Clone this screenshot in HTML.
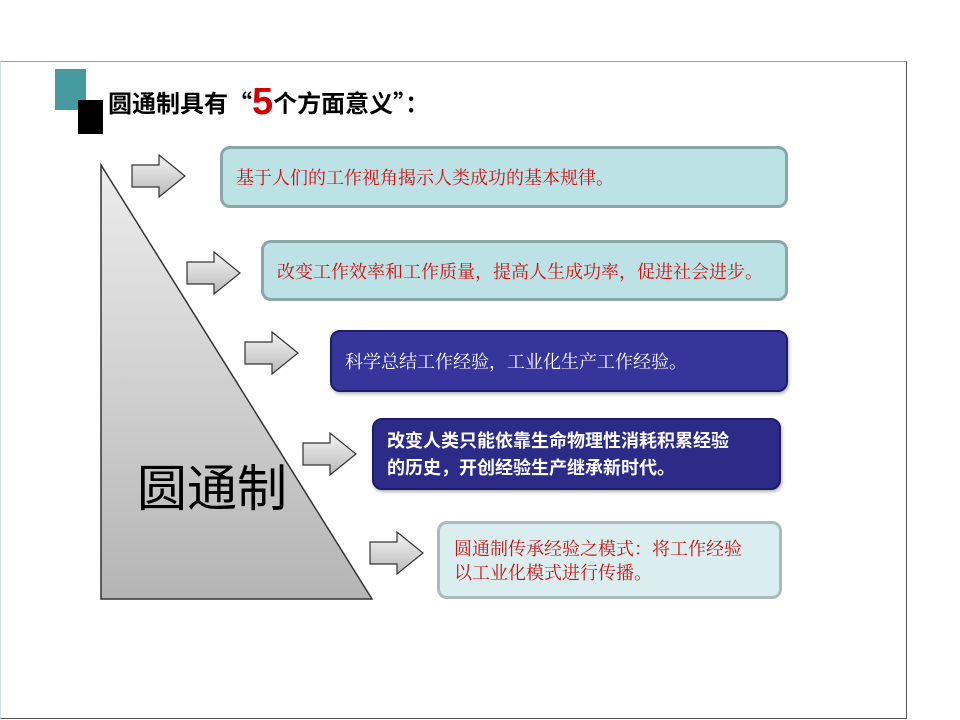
<!DOCTYPE html>
<html><head><meta charset="utf-8"><style>
body{margin:0;width:960px;height:720px;background:#fff;position:relative;overflow:hidden;font-family:"Liberation Sans","Noto Sans CJK SC",sans-serif}
.frame{position:absolute;left:0;top:61px;width:905px;height:656px;border-top:1.5px solid #6fb0b6;border-right:1.5px solid #555;border-bottom:1.5px solid #555;border-left:1px solid #cfe3e5}
.box{position:absolute;border-radius:10px;box-sizing:border-box;display:flex;align-items:center;font-size:18px;line-height:26px;white-space:nowrap}
.serif{font-family:"Noto Serif CJK SC","Liberation Serif",serif}
.light{background:#bce2e5;border:3px solid #8aa6a8;color:#d01010}
.dark{background:#35359b;border:2px solid #1e1e66;color:#fff;box-shadow:1px 2px 3px rgba(0,0,0,.3)}
</style></head><body>
<div class="frame"></div>
<div style="position:absolute;left:55px;top:69px;width:31px;height:41px;background:#479a9f"></div>
<div style="position:absolute;left:78px;top:100px;width:25px;height:34px;background:#000"></div>
<div style="position:absolute;left:108px;top:82px;font-weight:bold;font-size:24px;color:#000;white-space:nowrap;line-height:40px;font-family:'Noto Sans CJK SC',sans-serif">圆通制具有“<span style="color:#d00000;font-size:38px;vertical-align:-2px;font-family:'Liberation Sans',sans-serif">5</span>个方面意义”：</div>
<svg width="960" height="720" style="position:absolute;left:0;top:0">
<defs>
<linearGradient id="tg" x1="0" y1="0" x2="0" y2="1"><stop offset="0" stop-color="#ececec"/><stop offset="1" stop-color="#b5b5b5"/></linearGradient>
<linearGradient id="ag" x1="0" y1="0" x2="0" y2="1"><stop offset="0" stop-color="#f4f4f4"/><stop offset="1" stop-color="#b9b9b9"/></linearGradient>
<g id="ar"><path d="M0 10 H27 V0 L53 21 L27 42 V32 H0 Z" fill="url(#ag)" stroke="#333" stroke-width="1.2"/></g>
</defs>
<path d="M101 165 L101 599 L372 599 Z" fill="url(#tg)" stroke="#333" stroke-width="1.5"/>
<use href="#ar" x="132" y="155"/>
<use href="#ar" x="187" y="252"/>
<use href="#ar" x="245" y="332"/>
<use href="#ar" x="303" y="433"/>
<use href="#ar" x="370" y="532"/>
<text x="137" y="506" font-size="50" font-family="Noto Sans CJK SC, sans-serif" fill="#000">圆通制</text>
</svg>
<div class="box light serif" style="left:220px;top:146px;width:568px;height:62px;padding-left:13px">基于人们的工作视角揭示人类成功的基本规律。</div>
<div class="box light serif" style="left:261px;top:240px;width:527px;height:61px;padding-left:13px">改变工作效率和工作质量，提高人生成功率，促进社会进步。</div>
<div class="box dark serif" style="left:330px;top:330px;width:458px;height:62px;padding-left:13px">科学总结工作经验，工业化生产工作经验。</div>
<div class="box dark" style="left:372px;top:418px;width:409px;height:72px;padding-left:13px;font-weight:bold;line-height:27px;background:#2c2c88;font-family:'Noto Sans CJK SC',sans-serif">改变人类只能依靠生命物理性消耗积累经验<br>的历史，开创经验生产继承新时代。</div>
<div class="box serif" style="left:437px;top:521px;width:345px;height:78px;padding-left:14px;line-height:24px;background:#daeef0;border:3px solid #a9bcbd;color:#d01010">圆通制传承经验之模式：将工作经验<br>以工业化模式进行传播。</div>
</body></html>
